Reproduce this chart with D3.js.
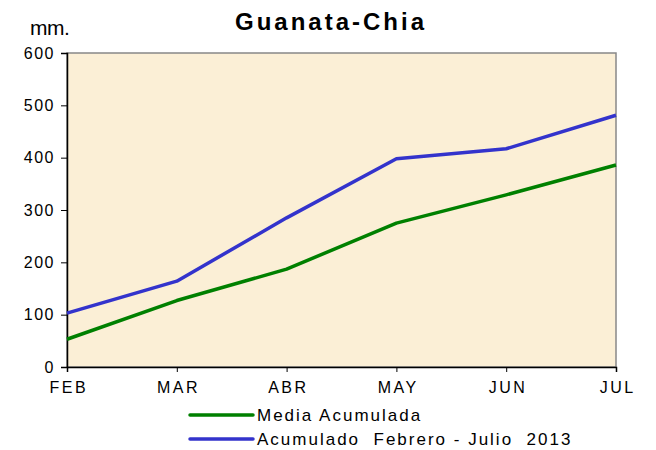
<!DOCTYPE html>
<html>
<head>
<meta charset="utf-8">
<script src="https://cdn.jsdelivr.net/npm/d3@7"></script>
<style>
  body { margin: 0; background: #fff; }
  text { font-family: "Liberation Sans", Arial, sans-serif; fill: #000; }
</style>
</head>
<body>
<svg id="chart" width="656" height="450"></svg>
<script>
// data
const months = ["FEB", "MAR", "ABR", "MAY", "JUN", "JUL"];
const mediaAcumulada = [53, 127, 187, 275, 329, 386];
const acumulado2013 = [103, 164, 285, 398, 417, 481];
const yTicks = [0, 100, 200, 300, 400, 500, 600];
const seriesNames = ["Media Acumulada", "Acumulado  Febrero - Julio  2013"];
const seriesColors = ["#008000", "#3333cc"];

const svg = d3.select("#chart");
const margin = { top: 53, right: 40, bottom: 83, left: 67 },
    width = 656 - margin.left - margin.right,
    height = 450 - margin.top - margin.bottom;

const g = svg.append("g")
    .attr("transform", "translate(" + margin.left + "," + margin.top + ")");

const x = d3.scalePoint().domain(months).range([0, width]);
const y = d3.scaleLinear().domain([0, 600]).range([height, 0]);

// plot background
g.append("rect")
    .attr("width", width)
    .attr("height", height)
    .attr("fill", "#fbefd6")
    .attr("stroke", "#888")
    .attr("stroke-width", 1.5);

// axes
const yAxis = g.append("g")
    .call(d3.axisLeft(y).tickValues(yTicks).tickSize(6).tickPadding(6));
const xAxis = g.append("g")
    .attr("transform", "translate(0," + height + ")")
    .call(d3.axisBottom(x).tickSize(5).tickPadding(10));

[yAxis, xAxis].forEach(a => {
    a.attr("font-size", null).attr("font-family", null);
    a.select(".domain").attr("stroke", "#000").attr("stroke-width", 1.5);
    a.selectAll(".tick line").attr("stroke", "#000");
    a.selectAll("text").attr("fill", "#000");
});
yAxis.selectAll("text")
    .style("font-size", "16px")
    .style("letter-spacing", "1.5px");
// letter-spaced labels, nudged to stay centred on their ticks
xAxis.selectAll("text")
    .style("font-size", "16px")
    .style("letter-spacing", "2.5px")
    .attr("dx", "1.25px");

// lines
const line = d3.line()
    .x((d, i) => x(months[i]))
    .y(d => y(d));

[mediaAcumulada, acumulado2013].forEach((s, i) => {
    g.append("path")
        .datum(s)
        .attr("fill", "none")
        .attr("stroke", seriesColors[i])
        .attr("stroke-width", 3.5)
        .attr("stroke-linejoin", "round")
        .attr("d", line);
});

// title + unit
svg.append("text")
    .attr("x", 331)
    .attr("y", 30)
    .attr("text-anchor", "middle")
    .style("font-size", "24px")
    .style("font-weight", "bold")
    .style("letter-spacing", "3px")
    .text("Guanata-Chia");

svg.append("text")
    .attr("x", 30)
    .attr("y", 35)
    .style("font-size", "21px")
    .style("letter-spacing", "-0.5px")
    .text("mm.");

// legend
const legend = svg.append("g").attr("transform", "translate(190,415)");
seriesNames.forEach((name, i) => {
    const row = legend.append("g").attr("transform", "translate(0," + i * 24 + ")");
    row.append("line")
        .attr("x1", 0).attr("x2", 63)
        .attr("stroke", seriesColors[i])
        .attr("stroke-width", 3.5)
        .attr("stroke-linecap", "round");
    row.append("text")
        .attr("x", 67)
        .attr("y", 6)
        .style("font-size", "17px")
        .style("letter-spacing", "2px")
        .attr("xml:space", "preserve")
        .text(name);
});
</script>
</body>
</html>
